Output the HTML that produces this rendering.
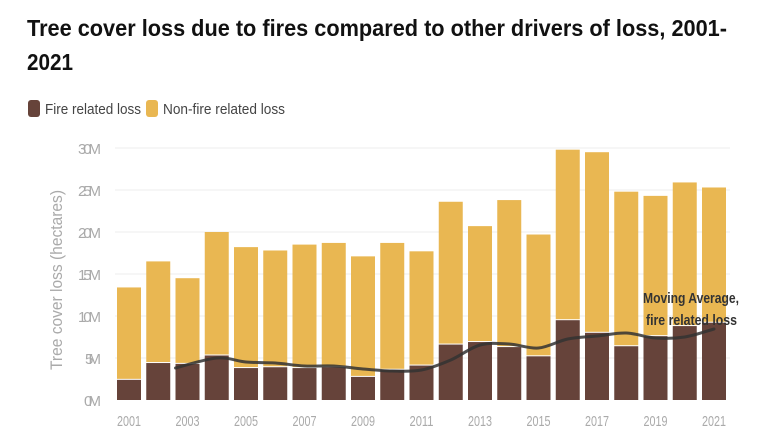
<!DOCTYPE html>
<html><head><meta charset="utf-8"><style>
html,body{margin:0;padding:0;background:#fff;}
svg{display:block;font-family:"Liberation Sans Narrow","Liberation Sans",sans-serif;}
</style></head><body>
<svg width="780" height="448" viewBox="0 0 780 448" xmlns="http://www.w3.org/2000/svg">
<rect width="780" height="448" fill="#fff"/>
<text x="27" y="36" font-size="23" font-weight="bold" fill="#111" textLength="700" lengthAdjust="spacingAndGlyphs">Tree cover loss due to fires compared to other drivers of loss, 2001-</text>
<text x="27" y="70" font-size="23" font-weight="bold" fill="#111" textLength="46" lengthAdjust="spacingAndGlyphs">2021</text>
<rect x="28" y="100" width="12" height="17" rx="3" fill="#66433a"/>
<text x="45" y="114" font-size="15" fill="#444" textLength="96" lengthAdjust="spacingAndGlyphs">Fire related loss</text>
<rect x="146" y="100" width="12" height="17" rx="3" fill="#e9b752"/>
<text x="163" y="114" font-size="15" fill="#444" textLength="122" lengthAdjust="spacingAndGlyphs">Non-fire related loss</text>
<g stroke="#ececec" stroke-width="1">
<line x1="115" x2="730" y1="148" y2="148"/><line x1="115" x2="730" y1="190" y2="190"/><line x1="115" x2="730" y1="232" y2="232"/><line x1="115" x2="730" y1="274" y2="274"/><line x1="115" x2="730" y1="316" y2="316"/><line x1="115" x2="730" y1="358" y2="358"/>
</g>
<g font-size="15" fill="#aaa" text-anchor="end" lengthAdjust="spacingAndGlyphs">
<text x="101" y="154" textLength="23">30M</text><text x="101" y="196" textLength="23">25M</text><text x="101" y="238" textLength="23">20M</text><text x="101" y="280" textLength="23">15M</text><text x="101" y="322" textLength="23">10M</text><text x="101" y="364" textLength="16">5M</text><text x="101" y="406" textLength="17">0M</text>
</g>
<text transform="translate(62,280) rotate(-90)" font-size="17" fill="#aaa" text-anchor="middle" textLength="180" lengthAdjust="spacingAndGlyphs">Tree cover loss (hectares)</text>
<g id="bars"></g>
<path id="ma" fill="none" stroke="#333" stroke-opacity="0.85" stroke-width="3" stroke-linecap="round"/>
<g font-size="15" fill="#aaa" id="xl"></g>
<text x="643" y="303" font-size="15" font-weight="bold" fill="#333" textLength="96" lengthAdjust="spacingAndGlyphs">Moving Average,</text>
<text x="646" y="325" font-size="15" font-weight="bold" fill="#333" textLength="91" lengthAdjust="spacingAndGlyphs">fire related loss</text>
</svg>
<script>
var tot=[13.4,16.5,14.5,20,18.2,17.8,18.5,18.7,17.1,18.7,17.7,23.6,20.7,23.8,19.7,29.8,29.5,24.8,24.3,25.9,25.3];
var fire=[2.4,4.4,4.3,5.3,3.8,3.9,3.8,3.9,2.75,3.6,4.1,6.6,6.9,6.3,5.2,9.5,8.0,6.4,7.6,8.8,9.2];
var ma=[368,358,362,363,366,366,369,371,370,360,345,344,348,339,336,333,338,337,329];
var ns="http://www.w3.org/2000/svg",g=document.getElementById('bars'),xl=document.getElementById('xl');
function y(v){return 400-8.4*v;}
for(var i=0;i<21;i++){
 var x=117+i*29.25;
 var r1=document.createElementNS(ns,'rect');r1.setAttribute('x',x);r1.setAttribute('width',24);r1.setAttribute('y',y(tot[i]));r1.setAttribute('height',y(fire[i])-y(tot[i])-1);r1.setAttribute('fill','#e9b752');g.appendChild(r1);
 var r2=document.createElementNS(ns,'rect');r2.setAttribute('x',x);r2.setAttribute('width',24);r2.setAttribute('y',y(fire[i]));r2.setAttribute('height',400-y(fire[i]));r2.setAttribute('fill','#66433a');g.appendChild(r2);
 if(i%2==0){var t=document.createElementNS(ns,'text');t.setAttribute('x',x);t.setAttribute('y',426);t.setAttribute('textLength',24);t.setAttribute('lengthAdjust','spacingAndGlyphs');t.textContent=2001+i;xl.appendChild(t);}
}
var P=[];
for(var j=0;j<ma.length;j++){P.push([117+(j+2)*29.25+12-(j==0?12:0),ma[j]]);}
var d='M'+P[0][0]+' '+P[0][1];
for(var k=0;k<P.length-1;k++){
 var p0=P[Math.max(k-1,0)],p1=P[k],p2=P[k+1],p3=P[Math.min(k+2,P.length-1)];
 d+=' C'+(p1[0]+(p2[0]-p0[0])/6)+' '+(p1[1]+(p2[1]-p0[1])/6)+' '+(p2[0]-(p3[0]-p1[0])/6)+' '+(p2[1]-(p3[1]-p1[1])/6)+' '+p2[0]+' '+p2[1];
}
document.getElementById('ma').setAttribute('d',d);
</script>
</body></html>
